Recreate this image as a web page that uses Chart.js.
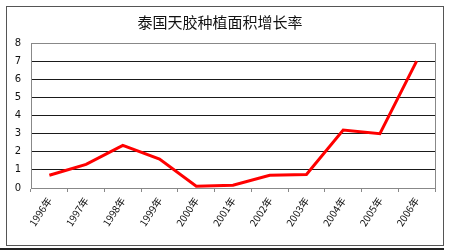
<!DOCTYPE html>
<html>
<head>
<meta charset="utf-8">
<script src="https://cdn.jsdelivr.net/npm/chart.js@4/dist/chart.umd.min.js"></script>
<style>
  html, body { margin: 0; padding: 0; background: #fff; }
  #wrap { width: 450px; height: 250px; }
</style>
</head>
<body>
<div id="wrap"><canvas id="growth" width="450" height="250"></canvas></div>
<script>
// data
const years = ["1996年", "1997年", "1998年", "1999年", "2000年", "2001年", "2002年", "2003年", "2004年", "2005年", "2006年"];
const growthRate = [0.7, 1.3, 2.35, 1.6, 0.1, 0.15, 0.7, 0.75, 3.2, 3.0, 7.0];
const yTicks = [0, 1, 2, 3, 4, 5, 6, 7, 8];

const CJK = '"Noto Sans CJK SC", "DejaVu Sans", sans-serif';

// ---------- frame + plot border ----------
const framePlugin = {
  id: "frame",
  beforeDraw(chart) {
    const ctx = chart.ctx;
    ctx.save();
    ctx.fillStyle = "#fff";
    ctx.fillRect(0, 0, chart.width, chart.height);
    ctx.strokeStyle = "#555";
    ctx.lineWidth = 1;
    ctx.strokeRect(6.5, 6.5, 437, 239);
    // dark edge at the bottom of the picture
    ctx.fillStyle = "#222";
    ctx.fillRect(0, 248, 444, 2);
    ctx.restore();
  },
  beforeDatasetsDraw(chart) {
    const { ctx, chartArea: a } = chart;
    ctx.save();
    ctx.strokeStyle = "#888";
    ctx.lineWidth = 1;
    ctx.beginPath();
    ctx.moveTo(Math.round(a.right) + 0.5, a.top);
    ctx.lineTo(Math.round(a.right) + 0.5, a.bottom);
    ctx.stroke();
    ctx.restore();
  },
};

new Chart(document.getElementById("growth"), {
  type: "line",
  data: {
    labels: years,
    datasets: [{
      data: growthRate,
      borderColor: "#ff0000",
      borderWidth: 3,
      pointRadius: 0,
      tension: 0,
      fill: false,
    }],
  },
  options: {
    responsive: false,
    animation: false,
    layout: { padding: { left: 5, right: 15, top: 0, bottom: 6 } },
    plugins: {
      legend: { display: false },
      tooltip: { enabled: false },
      title: {
        display: true,
        text: "泰国天胶种植面积增长率",
        color: "#111",
        font: { family: CJK, size: 15, weight: "normal" },
        padding: { top: 13, bottom: 12 },
      },
    },
    scales: {
      x: {
        offset: true,
        grid: {
          offset: true,
          drawOnChartArea: false,
          drawTicks: true,
          tickLength: 4,
          color: "#888",
        },
        border: { color: "#888", width: 1 },
        ticks: {
          autoSkip: false,
          maxRotation: 57,
          minRotation: 57,
          padding: 3,
          color: "#111",
          font: { family: CJK, size: 10 },
        },
        afterFit(scale) { scale.height = 56; },
      },
      y: {
        min: 0,
        max: 8,
        afterBuildTicks(scale) { scale.ticks = yTicks.map((v) => ({ value: v })); },
        grid: {
          drawTicks: false,
          color: (c) => (c.tick && (c.tick.value === 8 || c.tick.value === 0) ? "#888" : "#1a1a1a"),
          lineWidth: 1,
        },
        border: { color: "#888", width: 1 },
        ticks: {
          padding: 10,
          color: "#111",
          font: { family: '"DejaVu Sans", sans-serif', size: 10 },
        },
        afterFit(scale) { scale.width = 26; },
      },
    },
  },
  plugins: [framePlugin],
});
</script>
</body>
</html>
